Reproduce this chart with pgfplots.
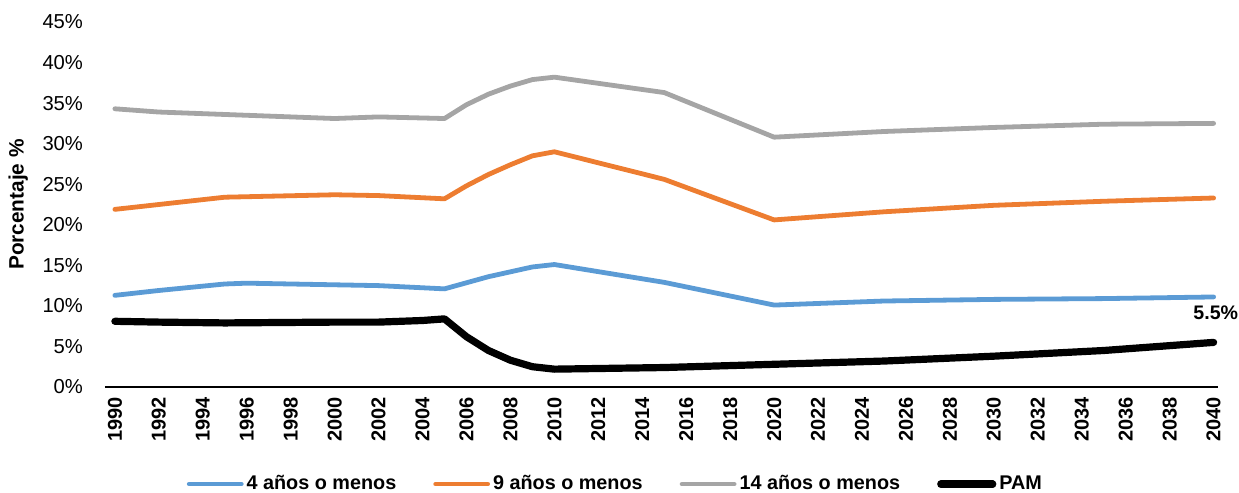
\documentclass[border=0pt]{standalone}
\usepackage{fontspec}
\setmainfont{Liberation Sans}
\usepackage{pgfplots}
\pgfplotsset{compat=1.18}
\definecolor{cBlue}{HTML}{5B9BD5}
\definecolor{cOrange}{HTML}{ED7D31}
\definecolor{cGray}{HTML}{A5A5A5}

\begin{document}
\begin{tikzpicture}
\useasboundingbox (-52.5pt,-53pt) rectangle (567pt,193.5pt);
\begin{axis}[
  scale only axis,
  width=556.5pt,
  height=182.5pt,
  clip=false,
  xmin=1989.55, xmax=2040.2,
  ymin=0, ymax=45,
  axis x line*=bottom,
  axis y line*=left,
  y axis line style={draw=none},
  x axis line style={black, line width=1pt},
  tick style={draw=none},
  xtick={1990,1992,...,2040},
  ytick={0,5,...,45},
  yticklabels={0\%,5\%,10\%,15\%,20\%,25\%,30\%,35\%,40\%,45\%},
  /pgf/number format/assume math mode=true,
  /pgf/number format/1000 sep={},
  xticklabel style={font=\fontsize{10}{11}\selectfont\bfseries, rotate=90, anchor=east, xshift=-1.5pt},
  yticklabel style={font=\fontsize{10.1}{11}\selectfont, anchor=east, xshift=-7.5pt},
  ylabel={Porcentaje \%},
  ylabel style={font=\fontsize{10.4}{11}\selectfont\bfseries, at={(axis description cs:-0.078,0.5)}, anchor=center},
  legend columns=4,
  legend style={draw=none, font=\fontsize{9.9}{11}\selectfont\bfseries,
    at={(axis description cs:0.459,-0.266)}, anchor=center,
    nodes={inner xsep=1.5pt},
    /tikz/every even column/.append style={column sep=17pt},
    inner sep=0pt},
  legend image code/.code={\draw[#1, line cap=round] (0pt,0pt) -- (26pt,0pt);},
  every axis plot/.append style={line join=round, line cap=round},
]
\addplot[cBlue, line width=2.4pt] coordinates {
  (1990,11.3) (1992,11.9) (1995,12.7) (1996,12.8) (2000,12.6) (2002,12.5)
  (2005,12.1) (2007,13.6) (2009,14.8) (2010,15.1) (2015,12.9) (2020,10.1)
  (2025,10.6) (2030,10.8) (2035,10.9) (2040,11.1)
};
\addplot[cOrange, line width=2.4pt] coordinates {
  (1990,21.9) (1992,22.5) (1995,23.4) (2000,23.7) (2002,23.6) (2005,23.2)
  (2006,24.8) (2007,26.2) (2008,27.4) (2009,28.5) (2010,29.0) (2015,25.6)
  (2020,20.6) (2025,21.6) (2030,22.4) (2035,22.9) (2040,23.3)
};
\addplot[cGray, line width=2.4pt] coordinates {
  (1990,34.3) (1992,33.9) (1995,33.6) (2000,33.1) (2002,33.3) (2005,33.1)
  (2006,34.8) (2007,36.1) (2008,37.1) (2009,37.9) (2010,38.2) (2015,36.3)
  (2020,30.8) (2025,31.5) (2030,32.0) (2035,32.4) (2040,32.5)
};
\addplot[black, line width=3.6pt] coordinates {
  (1990,8.1) (1992,8.0) (1995,7.9) (2000,8.0) (2002,8.0) (2004,8.2)
  (2005,8.4) (2006,6.2) (2007,4.5) (2008,3.3) (2009,2.5) (2010,2.2)
  (2015,2.4) (2020,2.8) (2025,3.2) (2030,3.8) (2035,4.5) (2040,5.5)
};
\legend{4 años o menos, 9 años o menos, 14 años o menos, PAM}
\node[font=\fontsize{9.8}{11}\selectfont\bfseries, anchor=center] at (axis cs:2040.1,9.2) {5.5\%};
\end{axis}
\end{tikzpicture}
\end{document}
